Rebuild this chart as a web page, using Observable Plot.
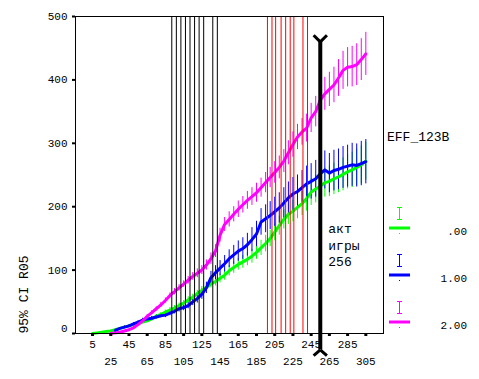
<!DOCTYPE html>
<html><head><meta charset="utf-8">
<script src="https://cdn.jsdelivr.net/npm/d3@7"></script>
<script src="https://cdn.jsdelivr.net/npm/@observablehq/plot@0.6"></script>
<style>
html,body{margin:0;padding:0;background:#fff;}
#chart{position:relative;width:479px;height:379px;overflow:hidden;background:#fff;}
#chart svg{display:block;}
#legend{position:absolute;left:0;top:0;}
</style></head><body><div id="chart"></div>
<script>
// ---- data ----
const groups = [".00", "1.00", "2.00"];
const colors = ["#00ff00", "#0000ff", "#ff00ff"];
const legendTitle = "EFF_123B";
const yLabel = "95% CI R05";
const xTicksTop = [5, 45, 85, 125, 165, 205, 245, 285];
const xTicksBottom = [25, 65, 105, 145, 185, 225, 265, 305];
const yTicks = [0, 100, 200, 300, 400, 500];
const blackLines = [92, 97, 102, 107, 112, 117, 122, 127, 137, 142];
const redLines = [197, 202, 206, 212, 217, 222, 226, 236, 241];
const markerX = 255;
const markerTop = 460;
const markerBottom = -26;
const markerText = "акт\nигры\n256";
const markerTextY = 178;

const xGreen = d3.range(5, 306, 5);
const yGreen = [0,1,2,3,4,6,8,10,12,14, 16,18,20,23,27,30,34,37,40,44,
  48,53,57,63,68,73,78,82,87,92, 99,104,109,113,117,122,128,135,142,150,
  160,170,180,188,193,199,205,213,223,228, 232,238,240,244,247,251,255,258,262,266, 272];
const hwGreen = [0,0,1,1,1,1,1,2,2,2, 2,2,2,3,3,3,3,4,4,4,
  4,5,5,5,6,6,6,7,7,8, 8,9,9,10,10,11,11,12,13,13,
  14,15,15,16,17,18,19,20,21,22, 22,23,24,25,25,26,27,28,29,30, 30];

const xBlue = d3.range(30, 306, 5);
const yBlue = [5,8,10,12,15,18,21,23,24,26, 28,29,32,35,39,41,44,50,55,62,
  72,88,96,103,110,118,124,130,134,140, 148,157,176,181,186,192,198,206,214,220,
  224,230,236,240,244,252,258,253,257,259, 262,264,266,265,268,271];
const hwBlue = [1,1,2,2,2,2,3,3,3,3, 3,4,4,4,5,5,5,6,7,8,
  9,10,11,12,13,14,15,16,17,18, 19,20,21,22,22,23,24,24,25,26,
  26,27,28,28,29,30,30,31,32,32, 33,33,34,34,35,35];

const xMagenta = d3.range(25, 306, 5);
const yMagenta = [0, 1,2,4,6,9,14,20,27,33,39, 45,52,60,66,72,78,84,90,95,100,
  108,118,130,155,172,180,188,196,203,210, 216,222,230,238,246,254,262,272,285,298,
  310,318,324,340,350,368,378,385,392,403, 415,420,421,424,432,441];
const hwMagenta = [0, 0,1,1,1,2,2,2,3,3,3, 4,4,4,5,5,5,6,6,7,7,
  8,9,10,11,11,12,12,13,13,14, 14,15,15,16,16,17,18,18,19,20,
  20,21,22,23,24,25,26,27,28,29, 30,31,32,33,33,34];

const series = [
  {name: groups[0], x: xGreen, y: yGreen, hw: hwGreen},
  {name: groups[1], x: xBlue, y: yBlue, hw: hwBlue},
  {name: groups[2], x: xMagenta, y: yMagenta, hw: hwMagenta}
];

const rows = [];
series.forEach(s => s.x.forEach((x, i) => rows.push({group: s.name, x, y: s.y[i], hw: s.hw[i]})));

// marker caps (Y on top, inverted at bottom)
const capDx = 7.3, capDy = 10.5;
const caps = [
  {x1: markerX - capDx, y1: markerTop + capDy, x2: markerX, y2: markerTop},
  {x1: markerX + capDx, y1: markerTop + capDy, x2: markerX, y2: markerTop},
  {x1: markerX - capDx, y1: markerBottom - 9, x2: markerX, y2: markerBottom},
  {x1: markerX + capDx, y1: markerBottom - 9, x2: markerX, y2: markerBottom}
];

const font = "Liberation Mono, monospace";

const plot = Plot.plot({
  width: 479, height: 379,
  marginLeft: 75, marginRight: 96, marginTop: 16, marginBottom: 46,
  style: {fontFamily: font, fontSize: "11px", color: "black", background: "white"},
  x: {domain: [-13.7, 324.4]},
  y: {domain: [0, 500]},
  color: {domain: groups, range: colors},
  marks: [
    Plot.ruleX(rows, {x: "x", y1: d => d.y - d.hw, y2: d => d.y + d.hw, stroke: "group", strokeWidth: 1}),
    Plot.line(rows, {x: "x", y: "y", z: "group", stroke: "group", strokeWidth: 3}),
    Plot.ruleX(blackLines, {stroke: "black", strokeWidth: 1}),
    Plot.ruleX(redLines, {stroke: "#ff0000", strokeWidth: 1}),
    Plot.frame({stroke: "black"}),
    Plot.axisX({ticks: xTicksTop, tickSize: 3, tickPadding: 4, strokeWidth: 3, label: null}),
    Plot.axisX({ticks: xTicksBottom, tickSize: 3, tickPadding: 21, strokeWidth: 3, label: null}),
    Plot.axisY({ticks: yTicks, tickSize: 3, tickPadding: 5, strokeWidth: 2, label: null, tickFormat: d => d === 0 ? "" : d}),
    Plot.text([0], {y: d => d, text: d => String(d), frameAnchor: "left", dx: -8, dy: -5.5, textAnchor: "end"}),
    Plot.text([yLabel], {frameAnchor: "bottom-left", rotate: -90, textAnchor: "start", dx: -48, fontSize: 13}),
    Plot.ruleX([markerX], {y1: markerBottom, y2: markerTop, stroke: "black", strokeWidth: 4}),
    Plot.link(caps, {x1: "x1", y1: "y1", x2: "x2", y2: "y2", stroke: "black", strokeWidth: 3}),
    Plot.text([markerText], {x: markerX, y: markerTextY, dx: 8, textAnchor: "start", lineAnchor: "top", lineHeight: 1.3, fontSize: 13})
  ]
});
document.getElementById("chart").appendChild(plot);

// ---- legend (right side) ----
const leg = d3.select("#chart").append("svg").attr("id", "legend")
  .attr("width", 479).attr("height", 379)
  .style("font-family", font);
leg.append("text").attr("x", 387).attr("y", 141).attr("font-size", 13).attr("fill", "black").text(legendTitle);
groups.forEach((g, i) => {
  const top = 207 + i * 47;
  const c = colors[i];
  const gx = 399.5;
  leg.append("line").attr("x1", gx).attr("x2", gx).attr("y1", top).attr("y2", top + 12).attr("stroke", c);
  leg.append("line").attr("x1", gx - 2.5).attr("x2", gx + 2.5).attr("y1", top + 0.5).attr("y2", top + 0.5).attr("stroke", c);
  leg.append("line").attr("x1", gx - 2.5).attr("x2", gx + 2.5).attr("y1", top + 12.5).attr("y2", top + 12.5).attr("stroke", c);
  leg.append("line").attr("x1", 389).attr("x2", 410).attr("y1", top + 21).attr("y2", top + 21).attr("stroke", c).attr("stroke-width", 3);
  leg.append("rect").attr("x", 399).attr("y", top + 26).attr("width", 1).attr("height", 1).attr("fill", c);
  leg.append("text").attr("x", 467).attr("y", top + 28).attr("text-anchor", "end").attr("font-size", 11).attr("fill", "black").text(g);
});
</script>
</body></html>
